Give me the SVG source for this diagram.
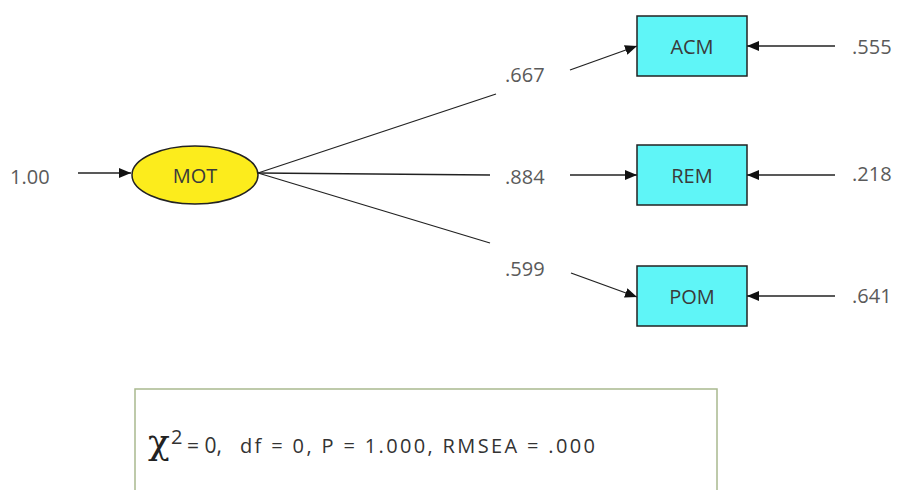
<svg xmlns="http://www.w3.org/2000/svg" width="898" height="490" viewBox="0 0 898 490">
<defs>
<marker id="ah" viewBox="0 0 12 10" refX="12" refY="5" markerWidth="12" markerHeight="10" markerUnits="userSpaceOnUse" orient="auto">
<path d="M0,0 L12,5 L0,10 Z" fill="#111"/>
</marker>
<style>
.lbl{font-family:"Open Sans","DejaVu Sans",sans-serif;font-size:20px;fill:#5a5a5a}
.nl{font-family:"Open Sans","DejaVu Sans",sans-serif;font-size:20px;fill:#3a3a3a;text-anchor:middle}
.box{fill:#5ff5f7;stroke:#222;stroke-width:1.5}
.c{stroke:#222;stroke-width:1.3;fill:none}
.fit{font-family:"Open Sans","DejaVu Sans",sans-serif;fill:#333}
</style>
</defs>
<rect width="898" height="490" fill="#fff"/>
<g id="connectors">
<line class="c" x1="78" y1="173" x2="131" y2="173" marker-end="url(#ah)"/>
<line class="c" x1="258" y1="173" x2="496" y2="94"/>
<line class="c" x1="258" y1="173" x2="490" y2="175"/>
<line class="c" x1="258" y1="173" x2="490" y2="243"/>
<line class="c" x1="570" y1="70" x2="637" y2="46" marker-end="url(#ah)"/>
<line class="c" x1="570" y1="175" x2="637" y2="175" marker-end="url(#ah)"/>
<line class="c" x1="571" y1="273" x2="637" y2="297" marker-end="url(#ah)"/>
<line class="c" x1="835" y1="46" x2="747" y2="46" marker-end="url(#ah)"/>
<line class="c" x1="835" y1="175" x2="747" y2="175" marker-end="url(#ah)"/>
<line class="c" x1="835" y1="296" x2="747" y2="296" marker-end="url(#ah)"/>
</g>
<g id="labels">
<text class="lbl" x="10" y="184">1.00</text>
<text class="lbl" x="505" y="82">.667</text>
<text class="lbl" x="505" y="184">.884</text>
<text class="lbl" x="505" y="276">.599</text>
<text class="lbl" x="852" y="54">.555</text>
<text class="lbl" x="852" y="181">.218</text>
<text class="lbl" x="852" y="303">.641</text>
</g>
<g id="MOT">
<ellipse cx="195" cy="175" rx="63" ry="29" fill="#fcec1c" stroke="#222" stroke-width="1.5"/>
<text class="nl" x="195" y="183">MOT</text>
</g>
<g id="ACM">
<rect class="box" x="637" y="16" width="110" height="60"/>
<text class="nl" x="692" y="54">ACM</text>
</g>
<g id="REM">
<rect class="box" x="637" y="145" width="110" height="60"/>
<text class="nl" x="692" y="183">REM</text>
</g>
<g id="POM">
<rect class="box" x="637" y="266" width="110" height="60"/>
<text class="nl" x="692" y="304">POM</text>
</g>
<g id="fit">
<rect x="135" y="389" width="582" height="110" fill="#fff" stroke="#a9b98f" stroke-width="1.5"/>
<text x="148" y="454" font-family="DejaVu Serif, serif" font-size="36" fill="#222">χ</text>
<text class="fit" x="171" y="444" font-size="20">2</text>
<text class="fit" x="187" y="453" font-size="21">= 0,</text>
<text class="fit" x="240" y="453" font-size="20" textLength="355" lengthAdjust="spacing">df = 0,  P = 1.000, RMSEA = .000</text>
</g>
</svg>
